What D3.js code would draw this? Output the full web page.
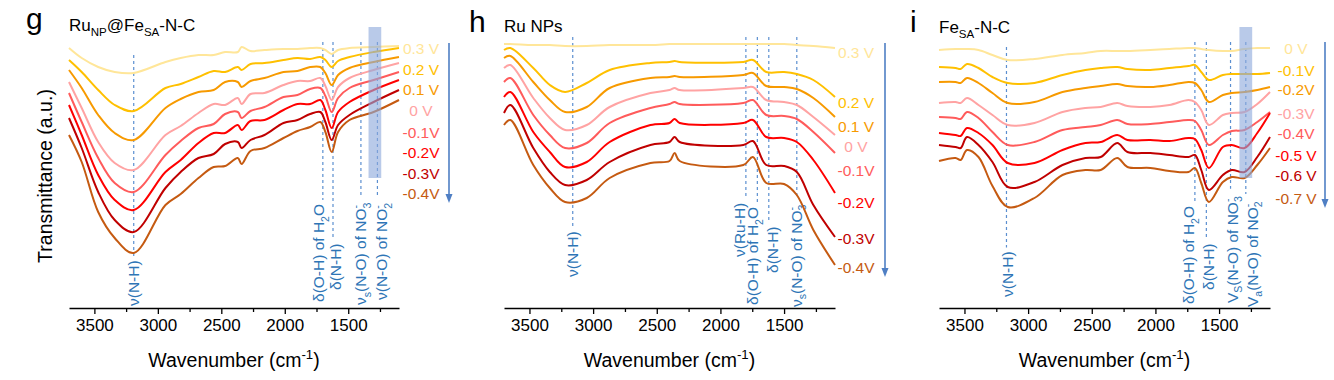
<!DOCTYPE html>
<html><head><meta charset="utf-8">
<script src="https://cdn.jsdelivr.net/npm/d3@7"></script>
<style>
body{margin:0;background:#fff}
svg{display:block;font-family:"Liberation Sans",Arial,sans-serif}
</style>
</head><body>
<svg id="chart" width="1334" height="380"></svg>
<script>
// ---------------- DATA ----------------
const waveTicks = [3500, 3000, 2500, 2000, 1500];
const waveMinorTicks = [3250, 2750, 2250, 1750, 1250];
const waveDomain = [3700, 1100];
const bandRegion = [1340, 1240];

// panel g : Ru_NP@Fe_SA-N-C
const gPotentials = ["0.3 V", "0.2 V", "0.1 V", "0 V", "-0.1V", "-0.2V", "-0.3V", "-0.4V"];
const gWave = [3700, 3600, 3470, 3340, 3190, 2940, 2820, 2680, 2560, 2470, 2370, 2340, 2270, 2160, 2010, 1900, 1800, 1720, 1680, 1630, 1580, 1490, 1300, 1100];
const gSeries = [
  [25.2, 24.2, 23.3, 22.8, 22.7, 23.8, 24.2, 24.5, 24.5, 24.8, 24.8, 25.3, 24.9, 25.0, 25.1, 25.1, 25.2, 25.2, 25.0, 24.6, 25.0, 25.2, 25.3, 25.4],
  [24.0, 22.8, 21.0, 19.5, 18.9, 21.2, 21.6, 22.3, 22.9, 22.8, 23.3, 23.0, 23.6, 23.7, 24.0, 24.2, 24.1, 24.3, 24.0, 23.3, 23.9, 24.3, 24.8, 25.2],
  [23.0, 21.2, 18.5, 16.7, 16.0, 19.2, 20.1, 20.8, 21.0, 21.8, 21.8, 21.3, 21.9, 22.2, 22.8, 22.9, 23.3, 23.3, 22.7, 21.5, 22.5, 23.2, 23.8, 24.3],
  [21.8, 19.2, 15.8, 13.7, 13.0, 16.5, 17.4, 18.7, 19.6, 19.5, 20.2, 19.6, 20.6, 20.7, 21.5, 21.9, 21.9, 22.2, 21.4, 20.0, 21.3, 22.2, 23.0, 23.7],
  [20.7, 17.8, 14.2, 11.7, 10.8, 14.5, 15.9, 17.2, 17.6, 18.6, 18.8, 18.2, 18.9, 19.3, 20.3, 20.5, 21.1, 21.2, 20.4, 18.8, 20.2, 21.2, 22.0, 22.8],
  [19.5, 16.5, 12.5, 10.0, 9.0, 12.8, 14.0, 15.7, 16.7, 16.7, 17.5, 17.0, 17.9, 18.0, 19.0, 19.6, 19.6, 20.0, 19.0, 17.2, 18.8, 19.8, 21.0, 22.0],
  [18.2, 15.2, 10.8, 8.0, 6.8, 11.2, 12.8, 14.2, 14.6, 15.6, 15.8, 15.2, 16.0, 16.5, 17.7, 18.0, 18.6, 18.8, 17.8, 16.0, 17.5, 18.5, 19.8, 21.0],
  [16.5, 13.8, 8.8, 6.2, 4.7, 9.5, 10.6, 12.2, 13.3, 13.4, 14.2, 13.6, 14.9, 15.2, 16.2, 16.9, 17.3, 17.8, 16.8, 14.8, 16.8, 18.0, 18.8, 20.0]
];
const gBandWave = [3190, 1700, 1620, 1400, 1270];
const gBandText = ["ν(N-H)", "δ(O-H) of H_{2}O", "δ(N-H)", "ν_{s}(N-O) of NO_{3}^{-}", "ν(N-O) of NO_{2}^{-}"];

// panel h : Ru NPs
const hPotentials = ["0.3 V", "0.2 V", "0.1 V", "0 V", "-0.1V", "-0.2V", "-0.3V", "-0.4V"];
const hWave = [3700, 3650, 3470, 3340, 3220, 3050, 2870, 2550, 2400, 2360, 2320, 1820, 1745, 1640, 1500, 1400, 1270, 1100];
const hSeries = [
  [25.6, 25.6, 25.5, 25.5, 25.4, 25.4, 25.5, 25.5, 25.6, 25.6, 25.6, 25.6, 25.6, 25.6, 25.6, 25.5, 25.4, 25.2],
  [25.0, 25.2, 23.2, 21.5, 20.8, 21.7, 23.0, 23.7, 23.8, 23.9, 23.8, 23.8, 24.0, 22.8, 22.8, 22.6, 22.0, 20.3],
  [24.2, 24.4, 21.8, 20.0, 18.8, 19.3, 21.2, 22.2, 22.3, 22.4, 22.3, 22.5, 22.7, 21.4, 21.3, 21.1, 20.2, 18.3],
  [23.2, 23.5, 20.2, 18.2, 17.0, 17.5, 19.3, 20.7, 21.0, 21.2, 21.0, 21.2, 21.3, 20.0, 19.8, 19.5, 18.3, 16.5],
  [21.8, 22.2, 18.5, 16.5, 15.2, 15.7, 17.7, 19.2, 19.6, 19.8, 19.6, 19.7, 20.0, 18.5, 18.4, 18.1, 16.8, 14.7],
  [20.3, 20.8, 16.8, 14.8, 13.3, 13.8, 15.8, 17.5, 17.7, 18.1, 17.7, 17.7, 18.0, 16.3, 16.2, 15.8, 14.0, 10.7],
  [18.7, 19.5, 15.2, 12.8, 11.5, 12.0, 13.8, 15.5, 15.8, 16.3, 15.8, 15.5, 15.9, 13.5, 13.4, 12.8, 9.5, 6.3],
  [17.5, 18.0, 13.5, 11.2, 9.8, 10.2, 12.2, 13.7, 13.9, 14.7, 13.9, 13.5, 14.3, 11.7, 11.6, 10.5, 7.0, 3.5]
];
const hBandWave = [3160, 1800, 1710, 1620, 1400];
const hBandText = ["ν(N-H)", "ν(Ru-H)", "δ(O-H) of H_{2}O", "δ(N-H)", "ν_{s}(N-O) of NO_{3}^{-}"];

// panel i : Fe_SA-N-C
const iPotentials = ["0 V", "-0.1V", "-0.2V", "-0.3V", "-0.4V", "-0.5 V", "-0.6 V", "-0.7 V"];
const iWave = [3700, 3570, 3530, 3480, 3390, 3280, 3160, 2950, 2730, 2550, 2430, 2300, 2220, 2040, 1890, 1740, 1690, 1640, 1580, 1470, 1400, 1300, 1200, 1100];
const iSeries = [
  [25.0, 25.1, 25.1, 25.1, 25.0, 24.5, 24.0, 24.1, 24.5, 24.7, 24.9, 24.9, 24.9, 25.0, 25.1, 25.2, 25.2, 25.1, 25.0, 24.9, 24.9, 25.1, 25.2, 25.2],
  [23.3, 23.2, 23.1, 23.6, 23.2, 22.3, 21.7, 21.7, 22.5, 23.0, 23.2, 23.3, 23.1, 23.0, 23.2, 23.4, 23.5, 22.8, 22.0, 22.5, 22.6, 22.6, 22.6, 22.7],
  [21.8, 21.8, 21.7, 22.2, 21.7, 20.7, 19.7, 19.8, 20.8, 21.2, 21.4, 21.6, 21.4, 21.3, 21.5, 21.8, 21.7, 21.0, 19.8, 20.5, 20.7, 20.8, 21.0, 21.3],
  [19.7, 19.8, 19.7, 20.2, 19.5, 18.5, 17.5, 17.7, 18.8, 19.2, 19.3, 19.7, 19.4, 19.3, 19.5, 20.0, 19.8, 19.0, 17.5, 18.5, 18.7, 18.8, 19.6, 20.8],
  [18.3, 18.2, 18.1, 18.8, 18.2, 16.8, 15.5, 15.8, 17.0, 17.3, 17.5, 18.0, 17.6, 17.6, 17.8, 18.0, 17.9, 17.0, 15.5, 16.5, 16.9, 17.0, 17.8, 18.8],
  [16.7, 16.5, 16.4, 17.2, 16.7, 15.5, 13.7, 13.7, 15.0, 15.7, 15.8, 16.5, 16.0, 16.0, 15.9, 16.2, 16.1, 15.0, 13.2, 15.3, 15.5, 15.2, 16.7, 18.7],
  [15.5, 15.3, 15.2, 16.3, 15.5, 13.8, 11.3, 11.8, 13.5, 14.2, 14.3, 15.7, 14.8, 14.7, 14.5, 14.3, 14.5, 13.0, 11.0, 12.5, 13.0, 12.8, 14.3, 16.3],
  [13.9, 14.2, 14.0, 15.0, 14.3, 11.4, 9.3, 10.2, 12.5, 13.0, 13.0, 14.2, 13.3, 13.2, 12.9, 12.8, 13.2, 11.7, 9.8, 11.8, 12.3, 12.2, 13.5, 15.2]
];
const iBandWave = [3170, 1690, 1600, 1410, 1290];
const iBandText = ["ν(N-H)", "δ(O-H) of H_{2}O", "δ(N-H)", "V_{S}(N-O) of NO_{3}^{-}", "V_{a}(N-O) of NO_{2}^{-}"];

// ---------------- STYLE / LAYOUT ----------------
const seriesColors = ["#ffe699", "#ffc000", "#f79a00", "#ffa3a3", "#ff5b5b", "#ff0000", "#c00000", "#c55a11"];
const noteColor = "#2e75b6", dashColor = "#5b8fd0", arrowColor = "#4f7fc4";

const panels = [
  { letter: "g", title: "Ru_{NP}@Fe_{SA}-N-C", wave: gWave, series: gSeries, pots: gPotentials,
    bands: gBandWave, notes: gBandText, band: true,
    x0: 69, x1: 399, letterX: 26, letterY: 29, titleY: 31, labelX: 421,
    labelY: [48, 69, 89, 110, 132, 152, 173, 193], arrow: [449, 43, 203],
    noteDx: [0, -4, 3, 0, 5], noteBottom: [306, 302, 290, 305, 300], noteTop: [55, 42, 42, 42, 42] },
  { letter: "h", title: "Ru NPs", wave: hWave, series: hSeries, pots: hPotentials,
    bands: hBandWave, notes: hBandText, band: false,
    x0: 504, x1: 835, letterX: 469, letterY: 32, titleY: 32, labelX: 856,
    labelY: [52, 102, 126, 146, 170, 202, 238, 267], arrow: [885, 43, 277],
    noteDx: [0, -6, -4, 4, 0], noteBottom: [277, 257, 305, 273, 307], noteTop: [37, 37, 37, 37, 37] },
  { letter: "i", title: "Fe_{SA}-N-C", wave: iWave, series: iSeries, pots: iPotentials,
    bands: iBandWave, notes: iBandText, band: true,
    x0: 939, x1: 1270, letterX: 910, letterY: 32, titleY: 33, labelX: 1296,
    labelY: [48, 70, 89, 113, 133, 155, 175, 198], arrow: [1325, 42, 208],
    noteDx: [2, -6, 3, 2, 7], noteBottom: [297, 304, 290, 303, 307], noteTop: [47, 42, 42, 42, 42] }
];

const svg = d3.select("#chart");
const y = d3.scaleLinear().domain([0, 26]).range([300, 40]);
const axisY = 308;

function rich(sel, str, size) {
  const re = /_\{([^}]*)\}|\^\{([^}]*)\}|([^_^]+)/g;
  let m, shift = 0, prevSubLen = 0;
  while ((m = re.exec(str))) {
    let txt, target, fs = size, dx = 0;
    if (m[1] !== undefined) { txt = m[1]; target = size * 0.3; fs = size * 0.68; prevSubLen = txt.length * 0.556 * fs; }
    else if (m[2] !== undefined) { txt = m[2]; target = -size * 0.42; fs = size * 0.68; if (prevSubLen) dx = -prevSubLen; prevSubLen = 0; }
    else { txt = m[3]; target = 0; prevSubLen = 0; }
    const t = sel.append("tspan").attr("font-size", fs).attr("dy", target - shift).text(txt);
    if (dx) t.attr("dx", dx);
    shift = target;
  }
}

// y-axis title
svg.append("text").attr("transform", "translate(52,176) rotate(-90)")
  .attr("text-anchor", "middle").attr("font-size", 19.5).attr("fill", "#000")
  .text("Transmittance (a.u.)");

panels.forEach(p => {
  const x = d3.scaleLinear().domain(waveDomain).range([p.x0, p.x1]);
  const g = svg.append("g");

  // panel letter & title
  g.append("text").attr("x", p.letterX).attr("y", p.letterY).attr("font-size", 30).text(p.letter);
  rich(g.append("text").attr("x", p.x0).attr("y", p.titleY).attr("fill", "#000"), p.title, 17);

  // dashed guide lines and notes
  p.bands.forEach((w, k) => {
    const cx = x(w);
    const t = g.append("text")
      .attr("transform", `translate(${cx + p.noteDx[k] + 5},${p.noteBottom[k]}) rotate(-90)`)
      .attr("fill", noteColor).attr("font-size", 15.5);
    rich(t, p.notes[k], 15.5);
    const len = t.node().getComputedTextLength();
    g.insert("line", "text").attr("x1", cx).attr("x2", cx)
      .attr("y1", p.noteTop[k]).attr("y2", p.noteBottom[k] - len - 4)
      .attr("stroke", dashColor).attr("stroke-width", 1.2).attr("stroke-dasharray", "3,3");
  });

  // spectra
  const line = d3.line().x(d => x(d[0])).y(d => y(d[1])).curve(d3.curveCatmullRom.alpha(0.5));
  p.series.forEach((vals, k) => {
    g.append("path").datum(p.wave.map((w, j) => [w, vals[j]]))
      .attr("d", line).attr("fill", "none")
      .attr("stroke", seriesColors[k]).attr("stroke-width", 2).attr("stroke-linejoin", "round");
  });

  // highlight band
  if (p.band) {
    g.append("rect").attr("x", x(bandRegion[0])).attr("width", x(bandRegion[1]) - x(bandRegion[0]))
      .attr("y", 27).attr("height", 151).attr("fill", "#8eaadb").attr("opacity", 0.62);
  }

  // potential labels
  p.pots.forEach((lab, k) => {
    g.append("text").attr("x", p.labelX).attr("y", p.labelY[k]).attr("dy", "0.36em")
      .attr("text-anchor", "middle").attr("font-size", 15.5).attr("fill", seriesColors[k]).text(lab);
  });

  // arrow
  const [ax, ay1, ay2] = p.arrow;
  g.append("line").attr("x1", ax).attr("x2", ax).attr("y1", ay1).attr("y2", ay2 - 6)
    .attr("stroke", arrowColor).attr("stroke-width", 1.6);
  g.append("path").attr("d", `M${ax - 3.5},${ay2 - 9} L${ax + 3.5},${ay2 - 9} L${ax},${ay2} Z`).attr("fill", arrowColor);

  // x axis
  const ax1 = g.append("g").attr("transform", `translate(0,${axisY})`)
    .call(d3.axisBottom(x).tickValues(waveTicks).tickSize(6).tickSizeOuter(0).tickPadding(5).tickFormat(d3.format("d")));
  ax1.select(".domain").attr("stroke-width", 1.6);
  ax1.selectAll(".tick line").attr("stroke-width", 1.3);
  ax1.selectAll(".tick text").attr("font-size", 17).attr("font-family", "Liberation Sans, Arial, sans-serif").attr("fill", "#000");
  const ax2 = g.append("g").attr("transform", `translate(0,${axisY})`)
    .call(d3.axisBottom(x).tickValues(waveMinorTicks).tickSize(4).tickFormat(""));
  ax2.select(".domain").remove();
  ax2.selectAll(".tick line").attr("stroke-width", 1.3);

  // x axis title
  rich(g.append("text").attr("x", (p.x0 + p.x1) / 2).attr("y", 367).attr("text-anchor", "middle").attr("font-size", 19.5),
    "Wavenumber (cm^{-1})", 19.5);
});
</script>
</body></html>
